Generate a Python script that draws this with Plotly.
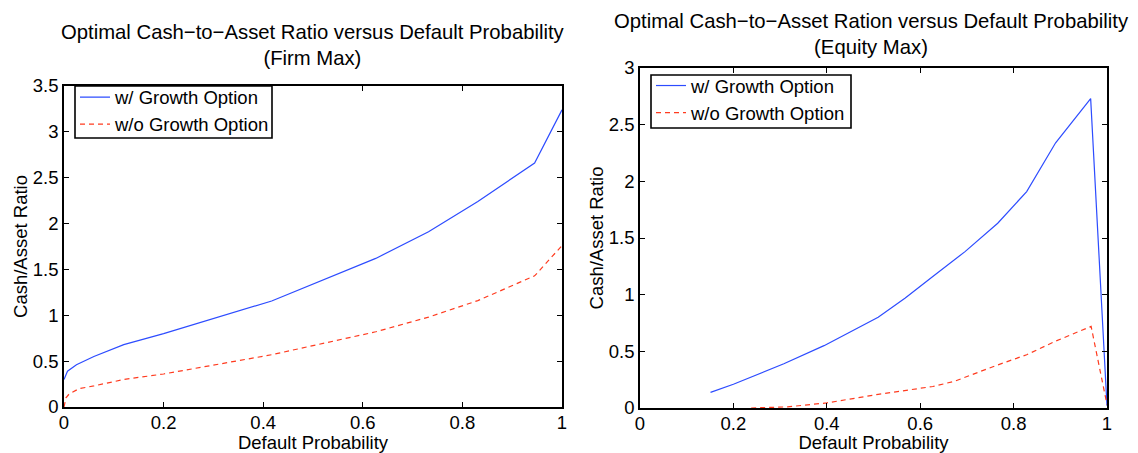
import plotly.graph_objects as go

# ---- data: Firm Max (left) ----
firm_x_with = [0.0, 0.007, 0.025, 0.06, 0.12, 0.2, 0.417, 0.626, 0.732, 0.831, 0.945, 1.0]
firm_y_with = [0.30, 0.39, 0.46, 0.55, 0.68, 0.80, 1.156, 1.62, 1.91, 2.24, 2.66, 3.24]
firm_x_without = [0.0, 0.004, 0.01, 0.03, 0.06, 0.12, 0.2, 0.417, 0.626, 0.732, 0.831, 0.945, 1.0]
firm_y_without = [0.0, 0.10, 0.14, 0.20, 0.23, 0.30, 0.36, 0.57, 0.82, 0.98, 1.16, 1.43, 1.76]

# ---- data: Equity Max (right) ----
eq_x_with = [0.151, 0.2, 0.308, 0.394, 0.51, 0.568, 0.627, 0.696, 0.766, 0.828, 0.89, 0.965, 1.0]
eq_y_with = [0.138, 0.21, 0.39, 0.55, 0.80, 0.97, 1.16, 1.38, 1.63, 1.91, 2.34, 2.73, 0.02]
eq_x_without = [0.238, 0.316, 0.40, 0.51, 0.627, 0.673, 0.766, 0.828, 0.89, 0.966, 1.0]
eq_y_without = [0.0, 0.01, 0.045, 0.12, 0.19, 0.235, 0.38, 0.47, 0.59, 0.72, 0.03]

x_ticks = [0, 0.2, 0.4, 0.6, 0.8, 1]
firm_y_ticks = [0, 0.5, 1, 1.5, 2, 2.5, 3, 3.5]
eq_y_ticks = [0, 0.5, 1, 1.5, 2, 2.5, 3]

legend_names = ["w/ Growth Option", "w/o Growth Option"]
titles = ["Optimal Cash\u2212to\u2212Asset Ratio versus Default Probability<br>(Firm Max)",
          "Optimal Cash\u2212to\u2212Asset Ration versus Default Probability<br>(Equity Max)"]
x_label = "Default Probability"
y_label = "Cash/Asset Ratio"

BLUE = "#2d4cff"
RED = "#ff3b1f"
FONT = "Liberation Sans, Arial, Helvetica, sans-serif"
W, H = 1138, 453
FS = 18.5

fig = go.Figure()
fig.add_trace(go.Scatter(x=firm_x_with, y=firm_y_with, mode="lines", name=legend_names[0],
                         line=dict(color=BLUE, width=1.2), xaxis="x", yaxis="y", legend="legend"))
fig.add_trace(go.Scatter(x=firm_x_without, y=firm_y_without, mode="lines", name=legend_names[1],
                         line=dict(color=RED, width=1.2, dash="5px,4px"), xaxis="x", yaxis="y", legend="legend"))
fig.add_trace(go.Scatter(x=eq_x_with, y=eq_y_with, mode="lines", name=legend_names[0],
                         line=dict(color=BLUE, width=1.2), xaxis="x2", yaxis="y2", legend="legend2"))
fig.add_trace(go.Scatter(x=eq_x_without, y=eq_y_without, mode="lines", name=legend_names[1],
                         line=dict(color=RED, width=1.2, dash="5px,4px"), xaxis="x2", yaxis="y2", legend="legend2"))

axis_common = dict(showline=True, linecolor="black", linewidth=1.5, mirror="ticks",
                   ticks="inside", ticklen=5, tickwidth=1, tickcolor="black",
                   showgrid=False, zeroline=False, automargin=False,
                   tickfont=dict(family=FONT, size=FS, color="black"),
                   title_font=dict(family=FONT, size=FS, color="black"))

# left axes box (pixels): x 64..562, y 86..407
lx0, lx1, ly0, ly1 = 64, 562, 86, 407
# right axes box: x 640..1107, y 68..408
rx0, rx1, ry0, ry1 = 640, 1107, 68, 408

legend_common = dict(xanchor="left", yanchor="top",
                     borderwidth=0, bgcolor="rgba(0,0,0,0)",
                     font=dict(family=FONT, size=FS, color="black"),
                     tracegroupgap=0, itemwidth=30)

# legend frames (pixel boxes) drawn as layout shapes
legend_boxes = [(75, 86, 272, 138), (651, 75, 851, 128)]
shapes = [dict(type="rect", xref="paper", yref="paper",
               x0=b[0] / W, x1=b[2] / W, y0=1 - b[3] / H, y1=1 - b[1] / H,
               line=dict(color="black", width=1.6), fillcolor="white", layer="above")
          for b in legend_boxes]

fig.update_layout(
    width=W, height=H,
    margin=dict(l=0, r=0, t=0, b=0, autoexpand=False),
    paper_bgcolor="white", plot_bgcolor="white",
    font=dict(family=FONT, color="black"),
    xaxis=dict(domain=[lx0 / W, lx1 / W], range=[0, 1], tickvals=x_ticks, anchor="y",
               ticklabelstandoff=-2, title=dict(text=x_label, standoff=3), **axis_common),
    yaxis=dict(domain=[1 - ly1 / H, 1 - ly0 / H], range=[0, 3.5], tickvals=firm_y_ticks, anchor="x",
               title=dict(text=y_label, standoff=0), **axis_common),
    xaxis2=dict(domain=[rx0 / W, rx1 / W], range=[0, 1], tickvals=x_ticks, anchor="y2",
                ticklabelstandoff=-2, title=dict(text=x_label, standoff=3), **axis_common),
    yaxis2=dict(domain=[1 - ry1 / H, 1 - ry0 / H], range=[0, 3], tickvals=eq_y_ticks, anchor="x2",
                title=dict(text=y_label, standoff=0), **axis_common),
    legend=dict(x=75 / W, y=1 - 78.5 / H, **legend_common),
    legend2=dict(x=651 / W, y=1 - 67 / H, **legend_common),
    showlegend=True,
    shapes=shapes,
    annotations=[
        dict(text=titles[0], x=(lx0 + lx1) / 2 / W, y=1 - 45 / H, xref="paper", yref="paper",
             xanchor="center", yanchor="middle", showarrow=False,
             font=dict(family=FONT, size=20.3, color="black")),
        dict(text=titles[1], x=871 / W, y=1 - 34 / H, xref="paper", yref="paper",
             xanchor="center", yanchor="middle", showarrow=False,
             font=dict(family=FONT, size=20.3, color="black")),
    ],
)

fig.write_html("out.html", config={"displayModeBar": False},
               post_script="document.body.style.margin='0';document.body.style.overflow='hidden';")
